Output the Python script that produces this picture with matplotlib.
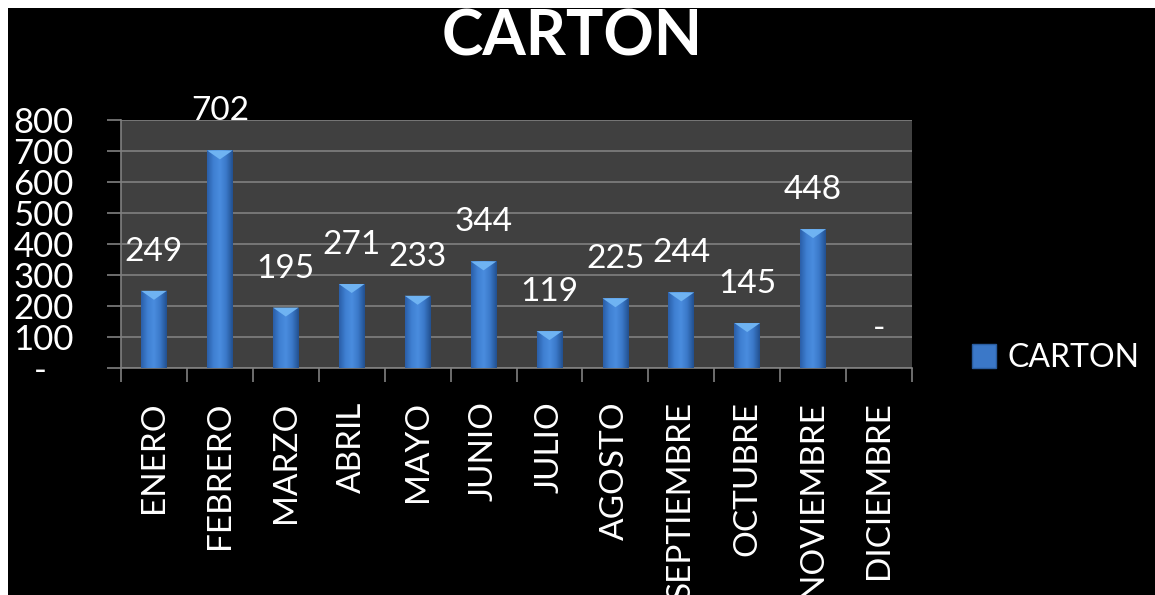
import numpy as np
import matplotlib
matplotlib.use("Agg")
import matplotlib.pyplot as plt
from matplotlib.patches import Rectangle, Patch, Polygon
from matplotlib.colors import LinearSegmentedColormap

plt.rcParams['font.family'] = ['Lato', 'DejaVu Sans']

# datos del grafico
meses = ['ENERO', 'FEBRERO', 'MARZO', 'ABRIL', 'MAYO', 'JUNIO', 'JULIO',
         'AGOSTO', 'SEPTIEMBRE', 'OCTUBRE', 'NOVIEMBRE', 'DICIEMBRE']
carton = [249, 702, 195, 271, 233, 344, 119, 225, 244, 145, 448, 0]
y_ticks = [0, 100, 200, 300, 400, 500, 600, 700, 800]
y_labels = ['-   ', '100', '200', '300', '400', '500', '600', '700', '800']

W, H = 1155, 595
fig = plt.figure(figsize=(W / 100, H / 100), dpi=100, facecolor='white')
# fondo negro con borde blanco arriba y a la izquierda
fig.patches.append(Rectangle((8 / W, 0), 1, (H - 8) / H, transform=fig.transFigure,
                             facecolor='black', edgecolor='none', zorder=-5))

ax = fig.add_axes([121 / W, 1 - 368 / H, (912 - 121) / W, (368 - 120) / H])
ax.set_facecolor('#404040')

x = np.arange(len(meses))
bars = ax.bar(x, carton, width=0.39, color='#3b78c8', edgecolor='none', zorder=3)

# degradado horizontal dentro de cada barra (efecto 3D de Excel)
cmap = LinearSegmentedColormap.from_list(
    'barra', ['#2a5ea8', '#3f80d2', '#4a8ddf', '#3a78c8', '#22508f'])
grad = np.linspace(0, 1, 64).reshape(1, -1)
ax.set_xlim(-0.5, len(meses) - 0.5)
ax.set_ylim(0, 800)
bevel = 9 * 800 / 248  # profundidad del triangulo superior
for b in bars:
    x0, w, h = b.get_x(), b.get_width(), b.get_height()
    if h <= 0:
        continue
    im = ax.imshow(grad, cmap=cmap, aspect='auto', extent=(x0, x0 + w, 0, h),
                   zorder=3.5, interpolation='bicubic')
    im.set_clip_path(b)
    ax.add_patch(Polygon([(x0, h), (x0 + w, h), (x0 + w / 2, h - bevel)],
                         closed=True, facecolor='#6fb3f2', edgecolor='none', zorder=4))
ax.set_xlim(-0.5, len(meses) - 0.5)
ax.set_ylim(0, 800)

for xi, v in zip(x, carton):
    txt = '-' if v == 0 else str(v)
    ax.annotate(txt, (xi, v), xytext=(0, 28), textcoords='offset points',
                ha='center', va='center', color='white', fontsize=24, zorder=5)

ax.set_yticks(y_ticks)
ax.set_yticklabels(y_labels)
ax.yaxis.grid(True, color='#808080', linewidth=1.2, zorder=1)
ax.tick_params(axis='y', colors='#808080', length=10, width=1.2, pad=24,
               labelcolor='white', labelsize=25)

# ticks en los limites de categoria, etiquetas en el centro
ax.set_xticks(np.arange(len(meses) + 1) - 0.5)
ax.set_xticklabels([])
ax.tick_params(axis='x', which='major', colors='#808080', length=10, width=1.2)
ax.set_xticks(x, minor=True)
ax.set_xticklabels(meses, minor=True, rotation=90, ha='center', va='top')
ax.tick_params(axis='x', which='minor', length=0, pad=24, labelcolor='white',
               labelsize=24)

for s in ['top', 'right']:
    ax.spines[s].set_visible(False)
for s in ['left', 'bottom']:
    ax.spines[s].set_color('#808080')
    ax.spines[s].set_linewidth(1.2)

fig.text(0.495, 1 - 8 / H, 'CARTON', ha='center', va='top', color='white',
         fontsize=45, fontweight='bold')

leg = fig.legend(handles=[Patch(facecolor='#3b78c8', edgecolor='#2a5c9e', label='CARTON')],
                 loc='center left', bbox_to_anchor=(972 / W, 1 - 358 / H),
                 frameon=False, fontsize=23, handlelength=0.75, handleheight=0.75,
                 handletextpad=0.35, borderpad=0, borderaxespad=0, labelcolor='white')

fig.savefig('out.png', dpi=100, facecolor=fig.get_facecolor())
